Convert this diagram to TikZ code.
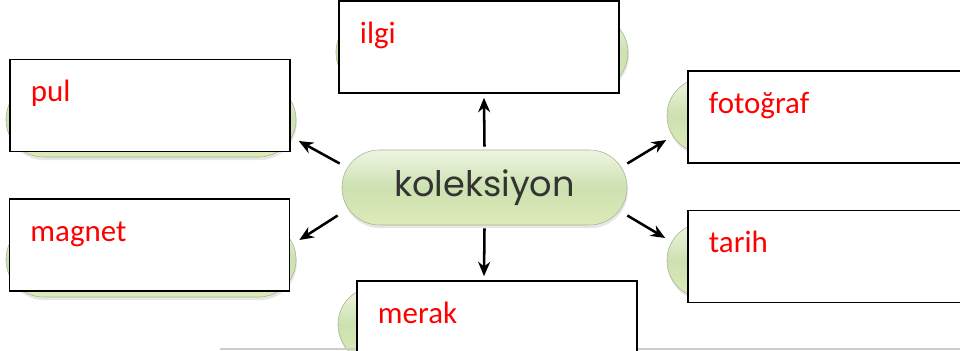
\documentclass[tikz,border=0pt]{standalone}
\usepackage{fontspec}
\setmainfont{Carlito}
\newfontfamily\pillfont{Poppins}
\usetikzlibrary{arrows.meta,shadows}
\definecolor{pilltop}{HTML}{EEF5E2}
\definecolor{pillmid}{HTML}{CDE1B0}
\definecolor{pillbot}{HTML}{DDEAB8}
\definecolor{pillline}{HTML}{A3B593}
\definecolor{kolgray}{HTML}{333333}
\begin{document}
\begin{tikzpicture}[x=0.025cm, y=-0.025cm,
	box/.style = {draw, line width=1.1pt, fill=white, inner xsep=0.525cm, inner ysep=0pt, text width=5.95cm, align=left,
		text height=1.05cm, text depth=1.25cm, text=red, font=\fontsize{22}{26}\selectfont},
	pill/.style = {draw=pillline, rounded corners=0.9375cm, minimum width=7.25cm, minimum height=1.875cm,
		top color=pilltop, bottom color=pillbot, middle color=pillmid,
		drop shadow={opacity=0.2, shadow xshift=0.02cm, shadow yshift=-0.08cm}},
	arr/.style = {-{Stealth[length=0.36cm, width=0.3cm]}, line width=1.8pt}]
	\useasboundingbox (0,0) rectangle (960,350);
	
	% green pills behind the boxes
	\node[pill] (pulbg) at (151,119.5) {};
	\node[pill] (magnetbg) at (151,259.5) {};
	\node[pill, minimum width=7.3cm] (ilgibg) at (482,52.5) {};
	\node[pill] (fotobg) at (812,115.5) {};
	\node[pill] (tarihbg) at (812,260.5) {};
	\node[pill] (merakbg) at (483,324.5) {};
	
	\draw[gray!40, line width=1pt] (220,349) -- (960,349);
	
	\node[box] (pul) at (150,105.5) {pul};
	\node[box] (magnet) at (149.5,245) {magnet};
	\node[box] (ilgi) at (479,47) {ilgi};
	\node[box] (foto) at (828,117) {fotoğraf};
	\node[box] (tarih) at (828,256.5) {tarih};
	\node[box] (merak) at (497,327) {merak};
	
	\node[pill, minimum width=7.125cm, text=kolgray, font=\pillfont\fontsize{25}{30}\selectfont] (kol) at (484.5,187.5) {koleksiyon};
	
	\draw[arr] ([shift={(0,-3)}]kol.north) to ([shift={(5,4)}]ilgi.south);
	\draw[arr] ([shift={(0,3)}]kol.south) to ([shift={(-13,-4)}]merak.north);
	\draw[arr] ([shift={(-2,-24)}]kol.west) to ([shift={(8,35.5)}]pul.east);
	\draw[arr] ([shift={(-4,28)}]kol.west) to ([shift={(9,-5)}]magnet.east);
	\draw[arr] ([shift={(0,-24)}]kol.east) to ([shift={(-21,23)}]foto.west);
	\draw[arr] ([shift={(0,28)}]kol.east) to ([shift={(-22,-18.5)}]tarih.west);
\end{tikzpicture}
\end{document}
